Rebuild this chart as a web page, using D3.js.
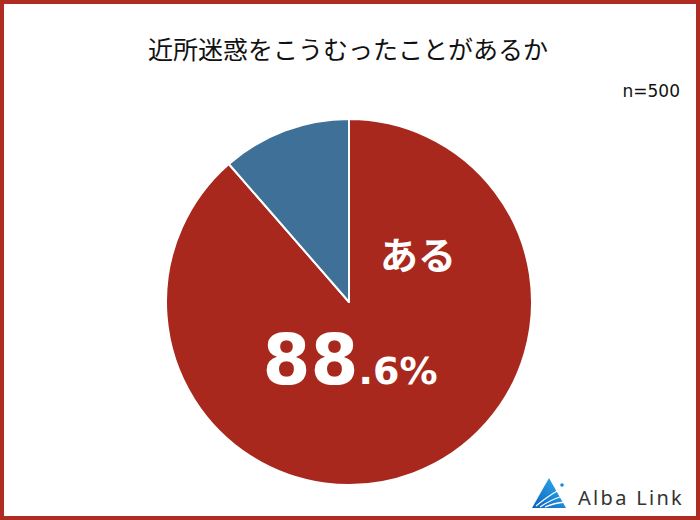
<!DOCTYPE html>
<html lang="ja">
<head>
<meta charset="utf-8">
<title>近所迷惑をこうむったことがあるか</title>
<script src="https://d3js.org/d3.v7.min.js"></script>
<style>
  html, body { margin: 0; padding: 0; background: #fff; }
  svg { display: block; font-family: "Noto Sans CJK JP", "Noto Sans", sans-serif; }
</style>
</head>
<body>
<div id="chart"></div>
<script>
// data
var labels = ["ある", "ない"];
var values = [88.6, 11.4];
var colors = ["#a8281e", "#3f7198"];
var title = "近所迷惑をこうむったことがあるか";
var sampleNote = "n=500";

var width = 700, height = 520;
var cx = 349, cy = 302, radius = 183;

var svg = d3.select("#chart").append("svg")
    .attr("width", width)
    .attr("height", height);

// frame
svg.append("rect")
    .attr("x", 2).attr("y", 2)
    .attr("width", width - 4).attr("height", height - 4)
    .attr("fill", "#fff")
    .attr("stroke", "#b02c22")
    .attr("stroke-width", 4);

svg.append("text")
    .attr("x", 348).attr("y", 59)
    .attr("text-anchor", "middle")
    .attr("font-size", 25)
    .attr("fill", "#111")
    .text(title);

svg.append("text")
    .attr("x", 680).attr("y", 97)
    .attr("text-anchor", "end")
    .attr("font-size", 17)
    .attr("font-family", "'DejaVu Sans', sans-serif")
    .attr("fill", "#111")
    .text(sampleNote);

var pie = d3.pie().sort(null).value(function(d) { return d; });
var arc = d3.arc().innerRadius(0).outerRadius(radius);
var arcs = pie(values);

var g = svg.append("g").attr("transform", "translate(" + cx + "," + cy + ")");

g.selectAll("path.slice")
    .data(arcs)
    .enter().append("path")
    .attr("class", "slice")
    .attr("d", arc)
    .attr("fill", function(d, i) { return colors[i]; })
    .attr("stroke", "#fff")
    .attr("stroke-width", 2)
    .attr("stroke-linejoin", "round");

// label for the main slice
g.append("text")
    .attr("x", 69).attr("y", -33)
    .attr("text-anchor", "middle")
    .attr("font-size", 38)
    .attr("font-weight", "bold")
    .attr("fill", "#fff")
    .text(labels[0]);

var pct = values[0].toFixed(1).split(".");
var t = g.append("text")
    .attr("x", 1).attr("y", 82)
    .attr("text-anchor", "middle")
    .attr("fill", "#fff")
    .attr("font-weight", "bold")
    .attr("font-family", "'DejaVu Sans', sans-serif");
t.append("tspan").attr("font-size", 69).text(pct[0]);
t.append("tspan").attr("font-size", 38).text("." + pct[1] + "%");

// logo
var defs = svg.append("defs");
var grad = defs.append("linearGradient").attr("id", "lg")
    .attr("x1", "0").attr("y1", "1").attr("x2", "1").attr("y2", "0");
grad.append("stop").attr("offset", "0").attr("stop-color", "#0a5fc0");
grad.append("stop").attr("offset", "1").attr("stop-color", "#32b4ee");
var logo = svg.append("g").attr("transform", "translate(532,477)");
logo.append("path")
    .attr("d", "M0,31 L17,1 L34,31 Z")
    .attr("fill", "url(#lg)");
logo.append("path")
    .attr("d", "M4,29 Q16,19 27,13 M8,30 Q18,23 31,19 M13,30 Q22,26 33,25")
    .attr("stroke", "#fff").attr("stroke-width", 1.3).attr("fill", "none");
logo.append("circle").attr("cx", 30).attr("cy", 8).attr("r", 1.8).attr("fill", "#1a8ad8");
svg.append("text")
    .attr("x", 578).attr("y", 505)
    .attr("font-size", 20)
    .attr("letter-spacing", 2.3)
    .attr("fill", "#333")
    .attr("font-family", "'Noto Sans', sans-serif")
    .text("Alba Link");
</script>
</body>
</html>
